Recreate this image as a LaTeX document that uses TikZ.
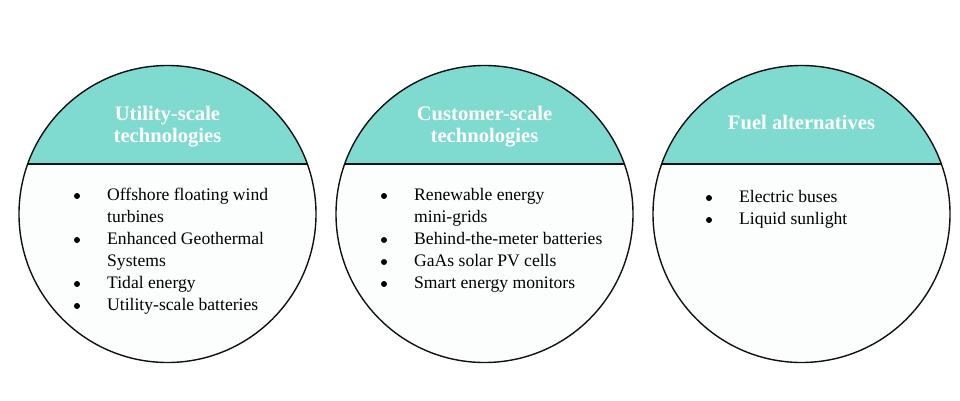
\documentclass[tikz,border=0pt]{standalone}
\usepackage{fontspec}
\setmainfont{Liberation Serif}
\definecolor{capteal}{HTML}{7FDBCF}
\definecolor{bodyfill}{HTML}{FBFEFD}
\definecolor{ringcol}{HTML}{111111}
\tikzset{
  x=1pt, y=-1pt,
  ring/.style={draw=ringcol, line width=1.4pt},
  titletext/.style={text=white, font=\fontsize{20.6}{22}\selectfont\bfseries, inner sep=0pt, anchor=base},
  itemtext/.style={text=black, font=\fontsize{17.6}{22}\selectfont, inner sep=0pt, anchor=base west},
  dotmark/.style={circle, fill=black, inner sep=0pt, minimum size=6pt},
}
\newcommand{\techcircle}[1]{%
  \begin{scope}
    \clip (#1,214) circle (148.5);
    \fill[bodyfill] (#1-150,64) rectangle (#1+150,364);
    \fill[capteal] (#1-150,60) rectangle (#1+150,164);
  \end{scope}
  \draw[ring] (#1-139.8,164) -- (#1+139.8,164);
  \draw[ring] (#1,214) circle (148.5);
}
\begin{document}
\begin{tikzpicture}
\useasboundingbox (0,0) rectangle (960,400);
\fill[white] (0,0) rectangle (960,400);
\techcircle{167.5}
\techcircle{484.5}
\techcircle{801.5}

% titles
\node[titletext] (t1a) at (167.5,120) {Utility-scale};
\node[titletext] (t1b) at (167.5,142) {technologies};
\node[titletext] (t2a) at (484.5,120) {Customer-scale};
\node[titletext] (t2b) at (484.5,142) {technologies};
\node[titletext] (t3a) at (801.5,129) {Fuel alternatives};

% left list
\node[dotmark] (b1a) at (77,196) {};
\node[itemtext] (i1a) at (107,200) {Offshore floating wind};
\node[itemtext] (i1a2) at (107,222) {turbines};
\node[dotmark] (b1b) at (77,240) {};
\node[itemtext] (i1b) at (107,244) {Enhanced Geothermal};
\node[itemtext] (i1b2) at (107,266) {Systems};
\node[dotmark] (b1c) at (77,284) {};
\node[itemtext] (i1c) at (107,288) {Tidal energy};
\node[dotmark] (b1d) at (77,306) {};
\node[itemtext] (i1d) at (107,310) {Utility-scale batteries};

% middle list
\node[dotmark] (b2a) at (384,196) {};
\node[itemtext] (i2a) at (414,200) {Renewable energy};
\node[itemtext] (i2a2) at (414,222) {mini-grids};
\node[dotmark] (b2b) at (384,240) {};
\node[itemtext] (i2b) at (414,244) {Behind-the-meter batteries};
\node[dotmark] (b2c) at (384,262) {};
\node[itemtext] (i2c) at (414,266) {GaAs solar PV cells};
\node[dotmark] (b2d) at (384,284) {};
\node[itemtext] (i2d) at (414,288) {Smart energy monitors};

% right list
\node[dotmark] (b3a) at (709,198) {};
\node[itemtext] (i3a) at (739,202) {Electric buses};
\node[dotmark] (b3b) at (709,220) {};
\node[itemtext] (i3b) at (739,224) {Liquid sunlight};
\end{tikzpicture}
\end{document}
